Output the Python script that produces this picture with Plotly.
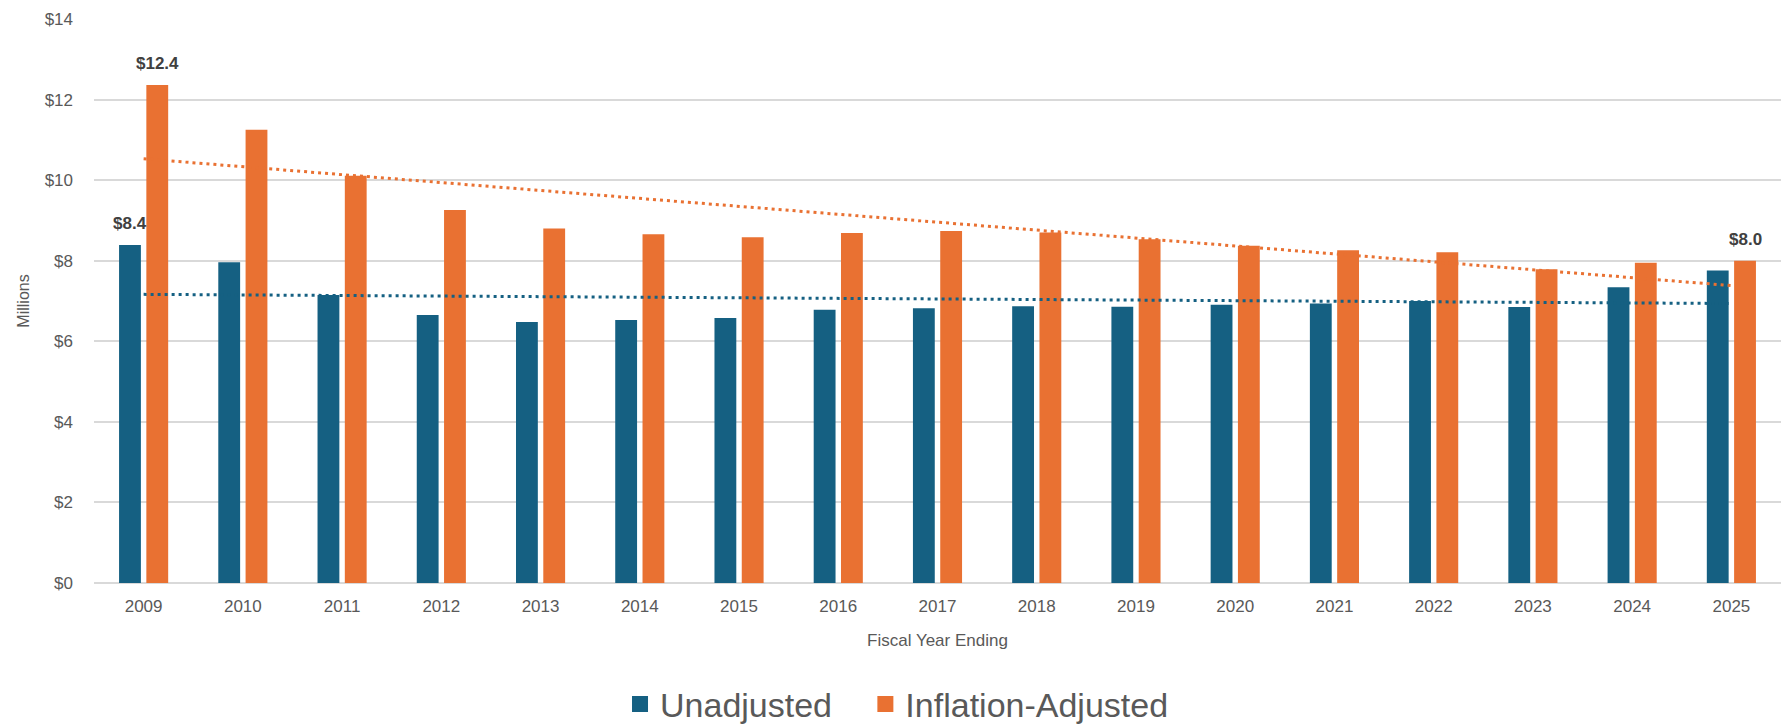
import numpy as np
import plotly.graph_objects as go

years = [str(y) for y in range(2009, 2026)]
unadjusted = [8.39, 7.96, 7.15, 6.65, 6.48, 6.53, 6.58, 6.78, 6.82, 6.87,
              6.86, 6.91, 6.94, 7.00, 6.85, 7.34, 7.76]
inflation_adjusted = [12.36, 11.25, 10.11, 9.26, 8.80, 8.66, 8.58, 8.69, 8.74,
                      8.70, 8.53, 8.37, 8.26, 8.21, 7.79, 7.95, 8.00]
y_ticks = [0, 2, 4, 6, 8, 10, 12, 14]

BLUE = "#156082"
ORANGE = "#E97132"
TXT = "#595959"
FONT = "Liberation Sans, Arial, sans-serif"

BARGAP = 0.45
idx = np.arange(len(years))


def trend(vals):
    k, b = np.polyfit(idx, vals, 1)
    return k * idx + b


fig = go.Figure()
fig.add_trace(go.Bar(x=years, y=unadjusted, name="Unadjusted", marker_color=BLUE,
                     marker_line_width=0, showlegend=False))
fig.add_trace(go.Bar(x=years, y=inflation_adjusted, name="Inflation-Adjusted",
                     marker_color=ORANGE, marker_line_width=0, showlegend=False))
fig.add_trace(go.Scatter(x=years, y=trend(unadjusted), mode="lines",
                         line=dict(color=BLUE, width=3, dash="3px,4px"),
                         showlegend=False, hoverinfo="skip"))
fig.add_trace(go.Scatter(x=years, y=trend(inflation_adjusted), mode="lines",
                         line=dict(color=ORANGE, width=3, dash="3px,4px"),
                         showlegend=False, hoverinfo="skip"))
# legend entries
for name, col in [("Unadjusted\u00a0\u00a0\u00a0", BLUE), ("Inflation-Adjusted", ORANGE)]:
    fig.add_trace(go.Scatter(x=[None], y=[None], mode="markers", name=name,
                             marker=dict(symbol="square", size=24, color=col)))

# data labels
slot = (1 - BARGAP) / 2
labels = [(0, unadjusted[0], -slot / 2), (0, inflation_adjusted[0], slot / 2),
          (len(years) - 1, inflation_adjusted[-1], slot / 2)]
for i, v, off in labels:
    fig.add_annotation(x=i + off, y=v, xref="x", yref="y", text=f"<b>${v:.1f}</b>",
                       showarrow=False, yanchor="bottom", yshift=10,
                       font=dict(size=17, color="#404040", family=FONT))

# page body has an 8px margin, so the figure is sized to fit the window
fig.update_layout(
    width=1781, height=718,
    margin=dict(l=86, r=8, t=11, b=143, autoexpand=False),
    paper_bgcolor="white", plot_bgcolor="white",
    barmode="group", bargap=BARGAP, bargroupgap=0.2,
    font=dict(family=FONT, color=TXT, size=16),
    legend=dict(orientation="h", x=0.476, xanchor="center", yref="container", y=0.03,
                yanchor="middle", font=dict(size=34, color=TXT), itemsizing="trace",
                tracegroupgap=0),
    xaxis=dict(showgrid=False, showline=False, ticks="", tickfont=dict(size=17, color=TXT),
               ticklabelstandoff=11, automargin=False,
               title=dict(text="Fiscal Year Ending", font=dict(size=17, color=TXT), standoff=19)),
    yaxis=dict(range=[0, 14], tickvals=y_ticks, ticktext=[f"${t}" for t in y_ticks],
               gridcolor="#d9d9d9", gridwidth=1.5, zeroline=True, zerolinecolor="#d9d9d9",
               zerolinewidth=2, tickfont=dict(size=17, color=TXT), ticklabelstandoff=20,
               automargin=False,
               title=dict(text="Millions", font=dict(size=16, color=TXT), standoff=11)),
)

fig.write_html("out.html")
